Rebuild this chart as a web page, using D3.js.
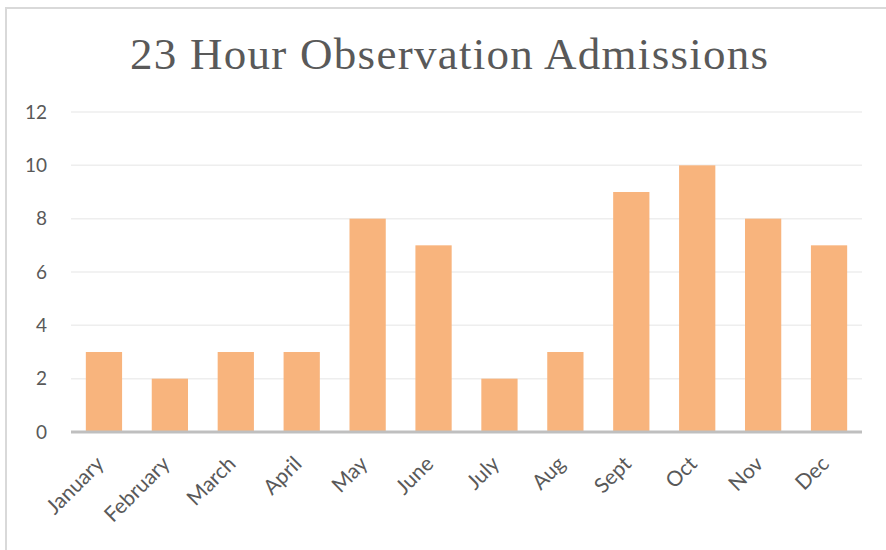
<!DOCTYPE html>
<html>
<head>
<meta charset="utf-8">
<script src="https://cdn.jsdelivr.net/npm/d3@7"></script>
<style>
  body { margin: 0; background: #ffffff; }
  svg { display: block; }
</style>
</head>
<body>
<div id="container"></div>
<script>
// ******* Chart data *******
var months = ["January", "February", "March", "April", "May", "June", "July", "Aug", "Sept", "Oct", "Nov", "Dec"];
var admissions = [3, 2, 3, 3, 8, 7, 2, 3, 9, 10, 8, 7];
var yTicks = [0, 2, 4, 6, 8, 10, 12];
var chartTitle = "23 Hour Observation Admissions";

var width = 886, height = 550;
var plot = {left: 71, right: 862, top: 112, bottom: 432};

var svg = d3.select("#container").append("svg")
  .attr("width", width)
  .attr("height", height)

// chart frame (only top + left show inside the crop)
svg.append("rect")
  .attr("x", 6)
  .attr("y", 8)
  .attr("width", 900)
  .attr("height", 600)
  .style("fill", "none")
  .style("stroke", "#d9d9d9")
  .style("stroke-width", 2)

var x = d3.scaleBand()
  .domain(months)
  .range([plot.left, plot.right])
  .paddingInner(0.45)
  .paddingOuter(0.225);

var y = d3.scaleLinear()
  .domain([0, 12])
  .range([plot.bottom, plot.top]);

// gridlines
svg.append("g")
  .attr("class", "grid")
  .selectAll("line")
  .data(yTicks.filter(function(d) { return d > 0; }))
  .enter().append("line")
  .attr("x1", plot.left)
  .attr("x2", plot.right)
  .attr("y1", function(d) { return y(d); })
  .attr("y2", function(d) { return y(d); })
  .style("stroke", "#eeeeee")
  .style("stroke-width", 1.5)

// y axis labels
var yAxis = d3.axisLeft(y).tickValues(yTicks).tickSize(0).tickPadding(24);
svg.append("g")
  .attr("class", "y-axis")
  .attr("transform", "translate(" + plot.left + ",0)")
  .call(yAxis)
  .call(function(g) { g.select(".domain").remove(); })
  .selectAll("text")
  .style("font-family", "Lato, 'Open Sans', sans-serif")
  .style("font-size", "19px")
  .style("fill", "#595959")

// bars
svg.selectAll(".bar")
  .data(admissions)
  .enter().append("rect")
  .attr("class", "bar")
  .attr("x", function(d, i) { return x(months[i]); })
  .attr("width", x.bandwidth())
  .attr("y", function(d) { return y(d); })
  .attr("height", function(d) { return plot.bottom - y(d); })
  .style("fill", "#f8b47d")

// x axis
var xAxis = d3.axisBottom(x).tickSize(0).tickPadding(0);
var xg = svg.append("g")
  .attr("class", "x-axis")
  .attr("transform", "translate(0," + plot.bottom + ")")
  .call(xAxis);

xg.select(".domain")
  .attr("d", "M" + plot.left + ",0H" + plot.right)
  .style("stroke", "#bfbfbf")
  .style("stroke-width", 3)

xg.selectAll("text")
  .style("text-anchor", "end")
  .attr("dy", "0.35em")
  .attr("y", 0)
  .attr("transform", "translate(-4,28) rotate(-45)")
  .style("font-family", "Lato, 'Open Sans', sans-serif")
  .style("font-size", "21px")
  .style("fill", "#595959")

// title
svg.append("text")
  .attr("class", "graph-text")
  .attr("x", 449)
  .attr("y", 69)
  .attr("text-anchor", "middle")
  .attr("textLength", 638)
  .attr("lengthAdjust", "spacing")
  .style("font-family", "'Liberation Serif', 'DejaVu Serif', serif")
  .style("font-size", "45px")
  .style("fill", "#595959")
  .text(chartTitle);
</script>
</body>
</html>
